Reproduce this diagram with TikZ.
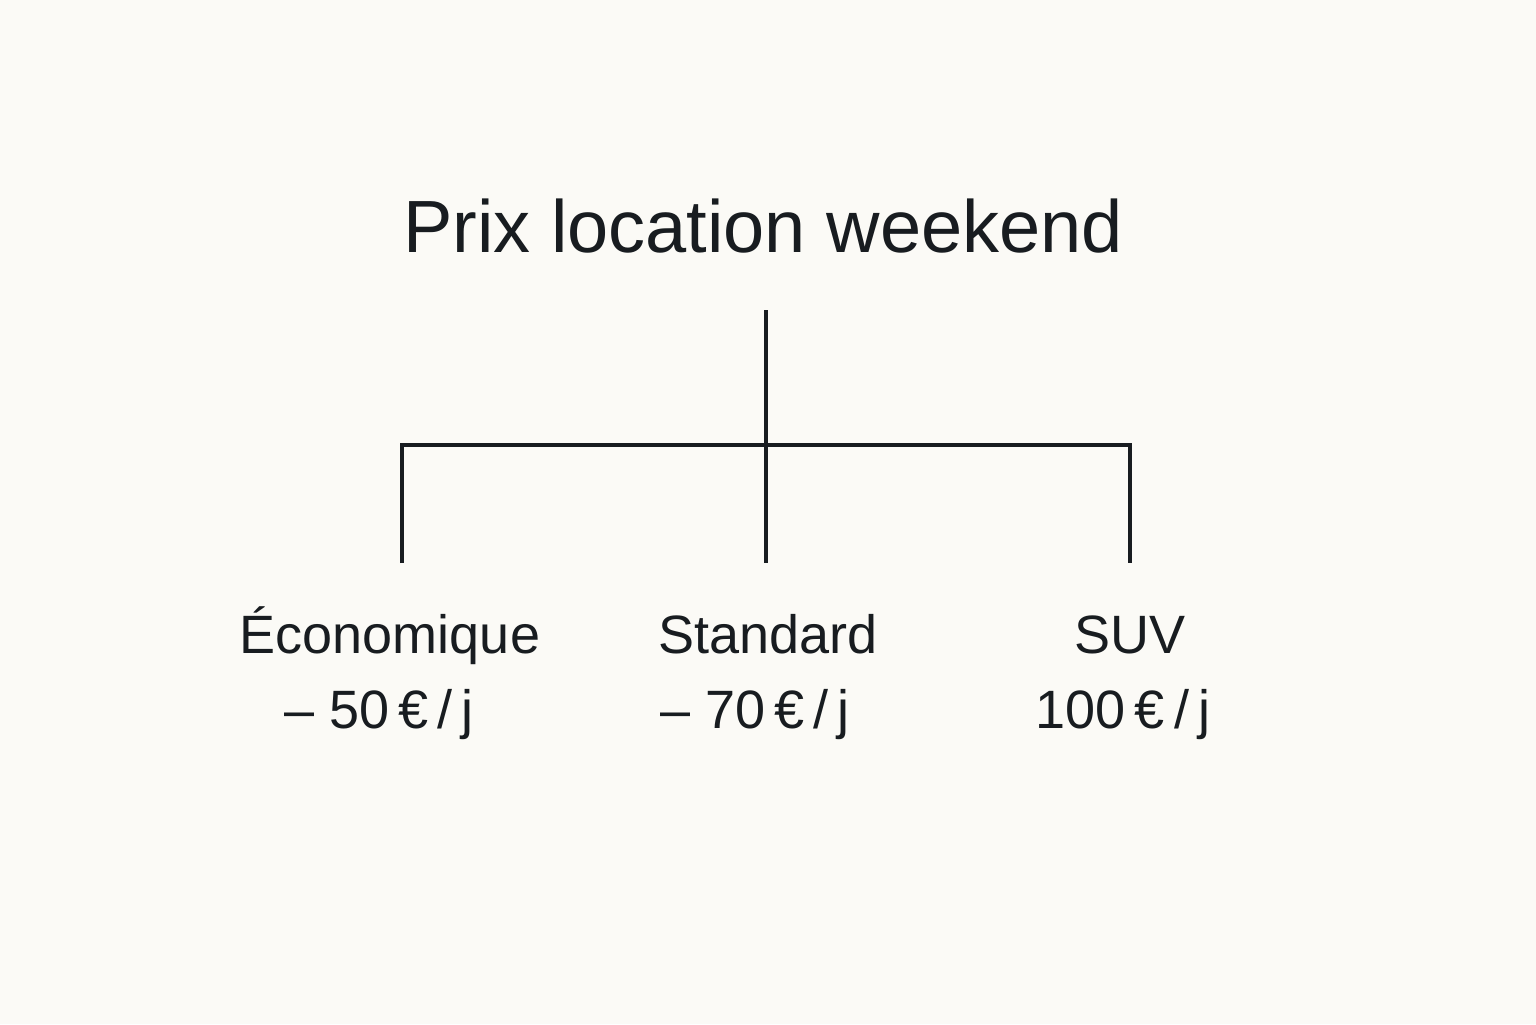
\documentclass[tikz,border=0pt]{standalone}
\usepackage{fontspec}
\setmainfont{Liberation Sans}
\definecolor{bgc}{RGB}{251,250,246}
\definecolor{ink}{RGB}{24,28,32}
\begin{document}
\begin{tikzpicture}[x=0.5pt,y=-0.5pt,
  title/.style={text=ink,font=\fontsize{37}{42}\selectfont,inner sep=0pt,anchor=base},
  lab/.style={text=ink,font=\fontsize{27}{31}\selectfont,inner sep=0pt,anchor=base},
  conn/.style={draw=ink,line width=1.8pt}]
\fill[bgc] (0,0) rectangle (1536,1024);
\useasboundingbox (0,0) rectangle (1536,1024);
\node[title] (t) at (763,252) {Prix location weekend};
\coordinate (top) at (766,310);
\coordinate (mid) at (766,445);
\coordinate (jl) at (402,445);
\coordinate (jr) at (1130,445);
\coordinate (el) at (402,563);
\coordinate (em) at (766,563);
\coordinate (er) at (1130,563);
\draw[conn] (top) -- (mid);
\draw[conn,line join=miter] (el) -- (jl) -- (jr) -- (er);
\draw[conn] (mid) -- (em);
\node[lab] (a1) at (390,653) {Économique};
\node[lab] (a2) at (379,728) {– 50\,€\,/\,j};
\node[lab] (b1) at (768,653) {Standard};
\node[lab] (b2) at (755,728) {– 70\,€\,/\,j};
\node[lab] (c1) at (1130,653) {SUV};
\node[lab] (c2) at (1123,728) {100\,€\,/\,j};
\end{tikzpicture}
\end{document}
